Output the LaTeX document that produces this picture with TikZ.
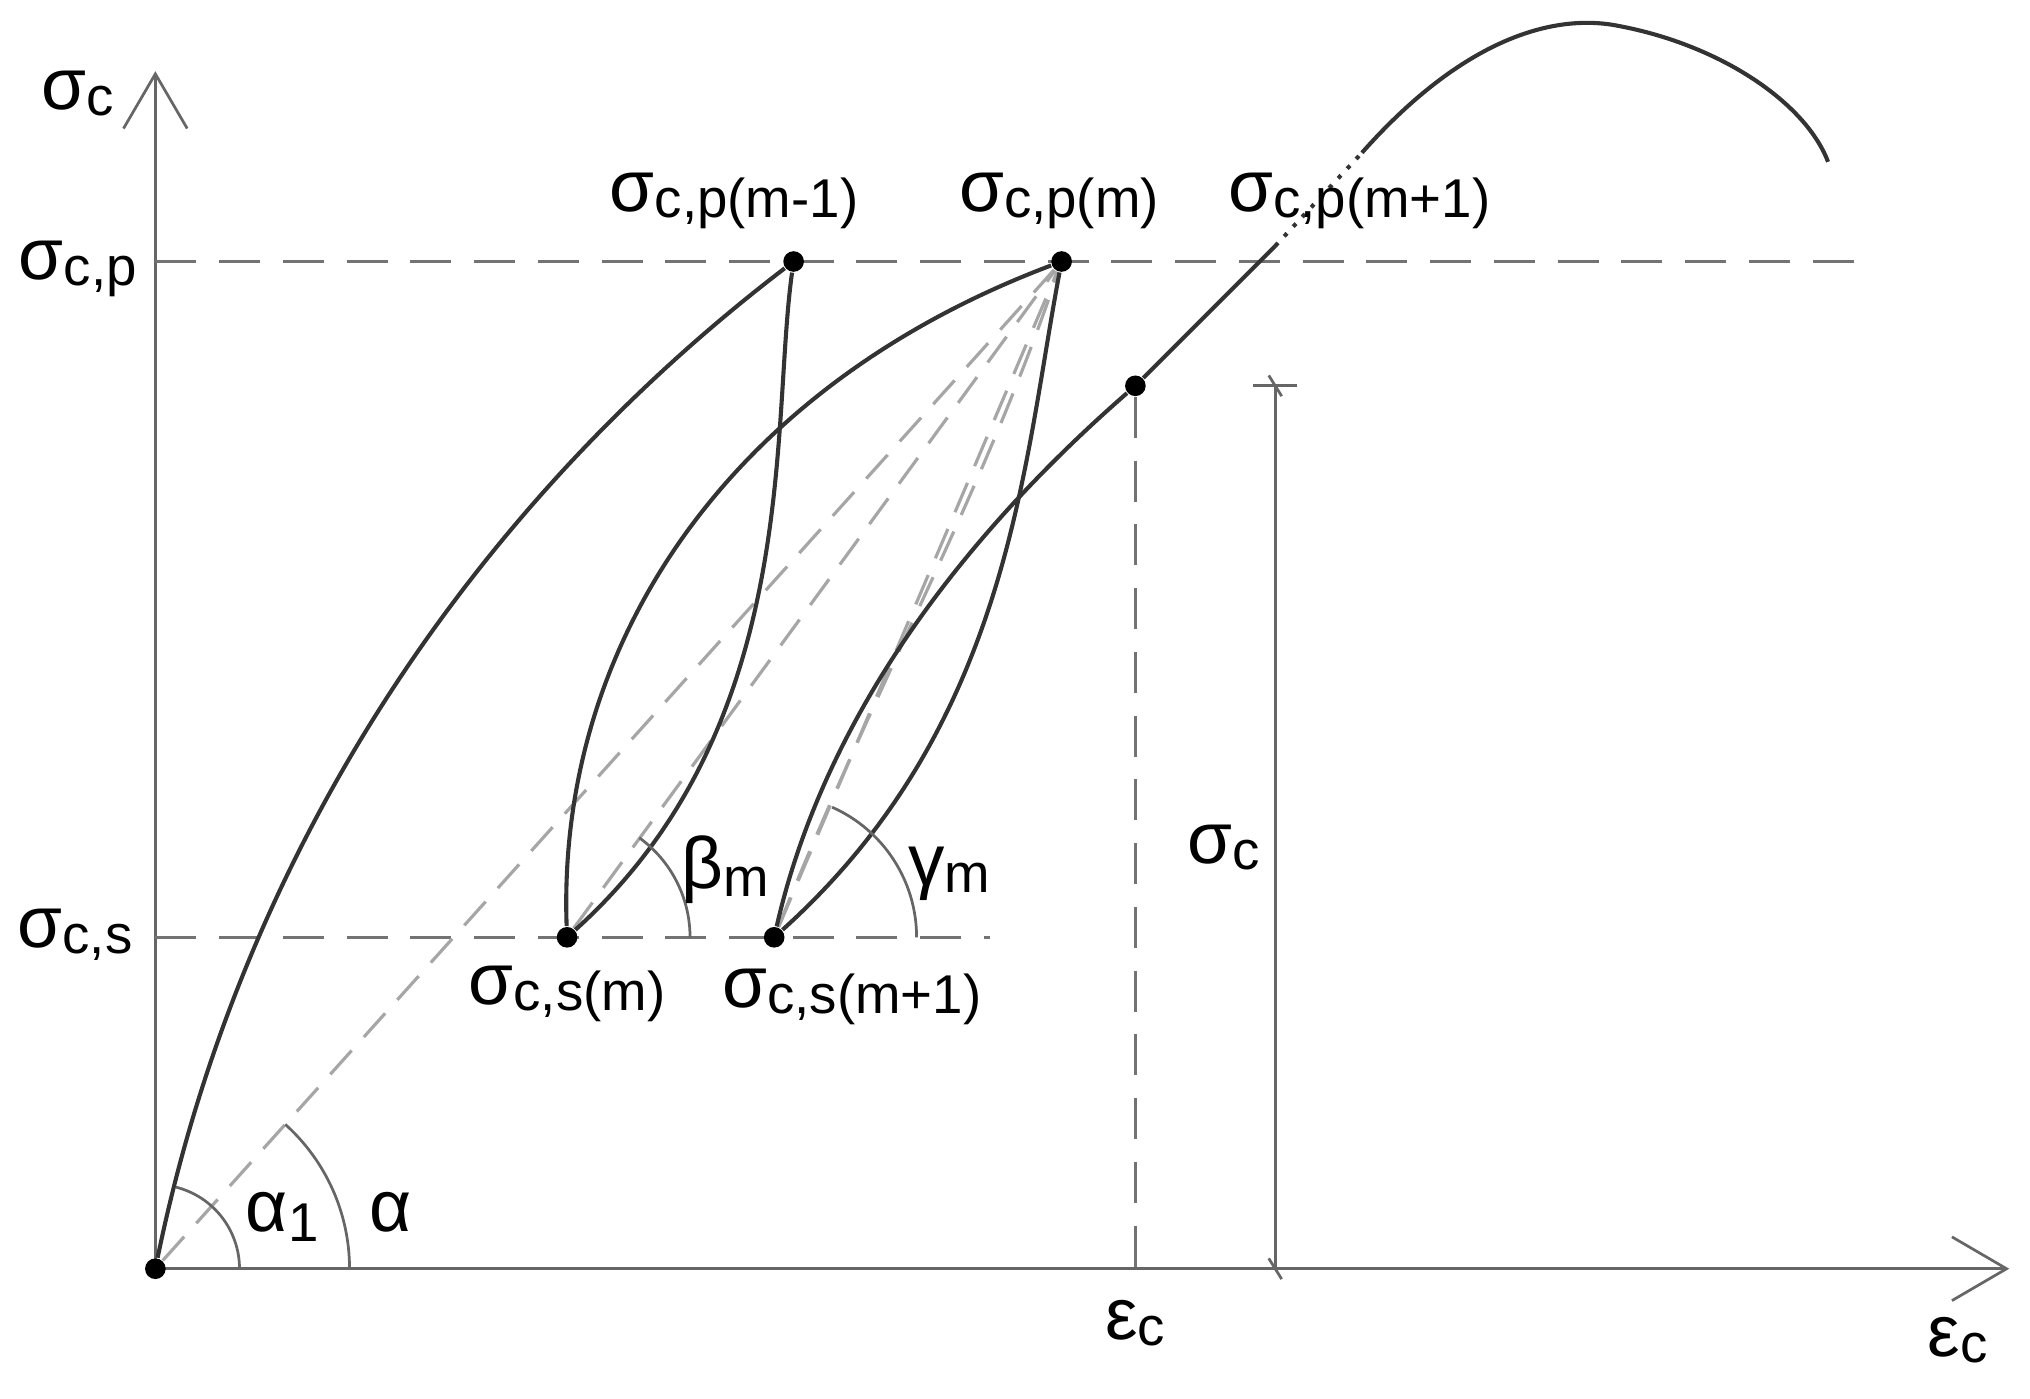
\documentclass[tikz,border=0pt]{standalone}
\usepackage{fontspec}
\setmainfont{Liberation Sans}
\usetikzlibrary{arrows.meta}
\newcommand{\sg}[1]{{\fontsize{16}{17}\selectfont σ}\raisebox{-0.25ex}{\fontsize{12}{13}\selectfont #1}}
\newcommand{\ep}[1]{{\fontsize{16}{17}\selectfont ε}\raisebox{-0.25ex}{\fontsize{12}{13}\selectfont #1}}
\begin{document}
\begin{tikzpicture}[x=0.01cm,y=-0.01cm,
  curve/.style={line width=0.9pt,black!80},
  axis/.style={line width=0.6pt,black!60},
  dsh/.style={dash pattern=on 9pt off 5pt,line width=0.7pt,black!55},
  ldsh/.style={dash pattern=on 7pt off 4pt,line width=0.7pt,black!35},
  pt/.style={circle,fill=black,inner sep=1.6pt},
  lbl/.style={inner sep=1pt}]
\useasboundingbox (0,0) rectangle (1568,1080);
% axes
\coordinate (O) at (120,980);
\coordinate (Ytop) at (120,55);
\coordinate (Xend) at (1552,980);
\draw[axis,-{Straight Barb[length=12pt,width=14pt]}] (O) -- (Ytop);
\draw[axis,-{Straight Barb[length=12pt,width=14pt]}] (O) -- (Xend);
% reference levels
\coordinate (P0) at (120,202); \coordinate (P1) at (1440,202);
\coordinate (S0) at (120,724); \coordinate (S1) at (765,724);
\draw[dsh] (P0) -- (P1);
\draw[dsh] (S0) -- (S1);
% points
\node[pt] (pm1) at (613,202) {};
\node[pt] (pm) at (820,202) {};
\node[pt] (sm) at (438,724) {};
\node[pt] (sm1) at (598,724) {};
\node[pt] (q) at (877,298) {};
\node[pt] (o) at (O) {};
\coordinate (E) at (985,190);
% gray dashed secants
\draw[ldsh] (o) -- (pm);
\draw[ldsh] (sm) -- (pm);
\draw[ldsh] (sm1) -- (pm);
\draw[ldsh] (sm1) .. controls (680,520) and (760,380) .. (pm);
% envelope
\draw[curve] (o) .. controls (190,640) and (380,380) .. (pm1);
\draw[curve] (pm1) .. controls (595,330) and (620,560) .. (sm);
\draw[curve] (sm) .. controls (430,500) and (560,300) .. (pm);
\draw[curve] (pm) .. controls (790,360) and (780,560) .. (sm1);
\draw[curve] (sm1) .. controls (640,540) and (760,400) .. (q);
\draw[curve] (q) -- (E);
\draw[line width=0.9pt,black!80,dotted] (E) -- (1052,118);
\draw[curve] (1052,118) .. controls (1130,30) and (1200,10) .. (1250,20) .. controls (1330,35) and (1395,80) .. (1412,125);
% epsilon_c marker
\coordinate (qb) at (877,980);
\draw[dsh] (q) -- (qb);
\coordinate (d1) at (985,298); \coordinate (d2) at (985,980);
\draw[axis] (d1) -- (d2);
\draw[axis] (968,298) -- (1002,298);
\draw[axis] (980,290)--(990,306);
\draw[axis] (980,972)--(990,988);
% angles
\draw[axis] (185,980) arc[start angle=0,end angle=-76,radius=65];
\draw[axis] (270,980) arc[start angle=0,end angle=-48,radius=150];
\draw[axis] (533,724) arc[start angle=0,end angle=-54,radius=95];
\draw[axis] (708,724) arc[start angle=0,end angle=-66,radius=110];
% labels
\node[lbl] (l1) at (60,72) {\sg{c}};
\node[lbl] (l2) at (60,208) {\sg{c,p}};
\node[lbl] (l3) at (58,722) {\sg{c,s}};
\node[lbl] (l4) at (567,155) {\sg{c,p(m-1)}};
\node[lbl] (l5) at (818,155) {\sg{c,p(m)}};
\node[lbl] (l6) at (1050,155) {\sg{c,p(m+1)}};
\node[lbl] (l7) at (438,768) {\sg{c,s(m)}};
\node[lbl] (l8) at (658,770) {\sg{c,s(m+1)}};
\node[lbl] (l9) at (945,655) {\sg{c}};
\node[lbl] (l10) at (877,1022) {\ep{c}};
\node[lbl] (l11) at (1512,1035) {\ep{c}};
\node[lbl] (l12) at (560,672) {{\fontsize{16}{17}\selectfont β}\raisebox{-0.3ex}{\fontsize{12}{13}\selectfont m}};
\node[lbl] (l13) at (733,675) {{\fontsize{16}{17}\selectfont γ}\raisebox{-0.3ex}{\fontsize{12}{13}\selectfont m}};
\node[lbl] (l14) at (218,940) {{\fontsize{16}{17}\selectfont α}\raisebox{-0.4ex}{\fontsize{12}{13}\selectfont 1}};
\node[lbl] (l15) at (302,936) {{\fontsize{16}{17}\selectfont α}};
\end{tikzpicture}
\end{document}
